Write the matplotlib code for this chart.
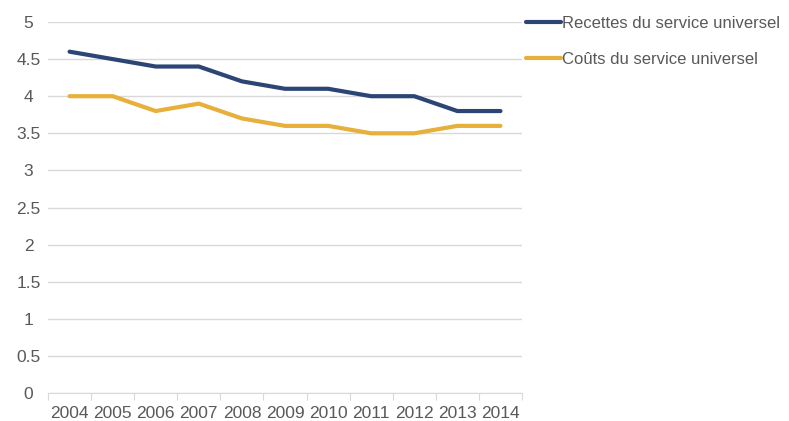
import matplotlib.pyplot as plt
import numpy as np

plt.rcParams['font.family'] = ['Liberation Sans', 'DejaVu Sans']

years = ['2004', '2005', '2006', '2007', '2008', '2009', '2010', '2011', '2012', '2013', '2014']
recettes = [4.6, 4.5, 4.4, 4.4, 4.2, 4.1, 4.1, 4.0, 4.0, 3.8, 3.8]
couts = [4.0, 4.0, 3.8, 3.9, 3.7, 3.6, 3.6, 3.5, 3.5, 3.6, 3.6]

blue = '#2b4575'
gold = '#e6b03a'
grey_txt = '#595959'
grid_col = '#d9d9d9'

fig = plt.figure(figsize=(7.89, 4.21), dpi=100)
ax = fig.add_axes([48 / 789, 1 - 393 / 421, (522 - 48) / 789, (393 - 22) / 421])

x = np.arange(len(years))
ax.plot(x, recettes, color=blue, lw=3, solid_capstyle='round', label='Recettes du service universel')
ax.plot(x, couts, color=gold, lw=3, solid_capstyle='round', label='Coûts du service universel')

ax.set_xlim(-0.5, len(years) - 0.5)
ax.set_ylim(0, 5)
ax.set_yticks(np.arange(0, 5.01, 0.5))
ax.set_yticklabels(['0', '0.5', '1', '1.5', '2', '2.5', '3', '3.5', '4', '4.5', '5'])
ax.yaxis.grid(True, color=grid_col, lw=1)
ax.set_axisbelow(True)
ax.tick_params(axis='y', length=0, pad=14, labelsize=12.5, labelcolor=grey_txt)
for lbl in ax.get_yticklabels():
    lbl.set_horizontalalignment('center')

# category boundaries as major ticks, labels on minor ticks at the centres
ax.set_xticks(np.arange(-0.5, len(years), 1.0))
ax.set_xticklabels([])
ax.set_xticks(x, minor=True)
ax.set_xticklabels(years, minor=True)
ax.tick_params(axis='x', which='major', length=5, color=grid_col, direction='out')
ax.tick_params(axis='x', which='minor', length=0, pad=9, labelsize=12.5, labelcolor=grey_txt)

for side in ['top', 'right', 'left']:
    ax.spines[side].set_visible(False)
ax.spines['bottom'].set_color(grid_col)

fig.legend(loc='upper left', bbox_to_anchor=(519 / 789, 1 - 9 / 421), frameon=False,
           fontsize=12, labelcolor=grey_txt, handlelength=2.1, handletextpad=0.1,
           labelspacing=1.3, borderaxespad=0)

fig.savefig('out.png', dpi=100)
